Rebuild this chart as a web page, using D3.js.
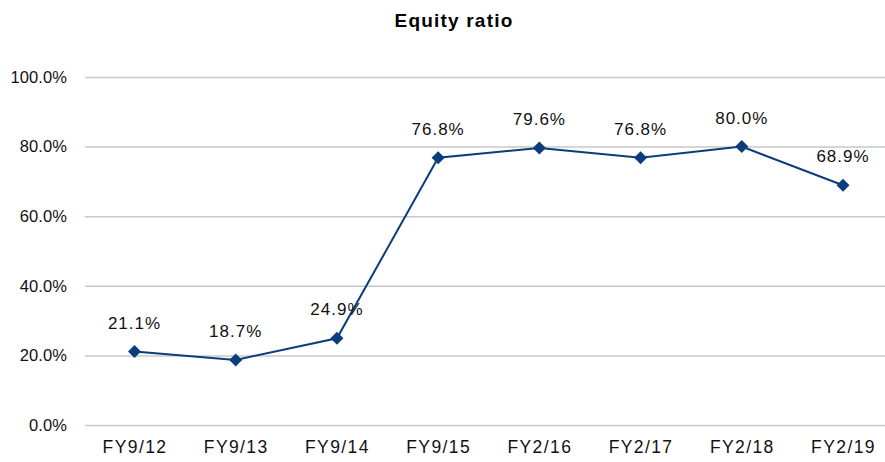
<!DOCTYPE html>
<html><head><meta charset="utf-8">
<script src="https://cdn.jsdelivr.net/npm/d3@7"></script>
<style>body{margin:0;background:#fff}svg{display:block}</style>
</head><body>
<script>
const categories = ["FY9/12","FY9/13","FY9/14","FY9/15","FY2/16","FY2/17","FY2/18","FY2/19"];
const values = [21.1, 18.7, 24.9, 76.8, 79.6, 76.8, 80.0, 68.9];
const yTicks = [0, 20, 40, 60, 80, 100];
const title = "Equity ratio";

const W = 885, H = 462;
const svg = d3.select("body").append("svg").attr("width", W).attr("height", H);
const x = d3.scalePoint().domain(categories).range([134.5, 843]);
const y = d3.scaleLinear().domain([0, 100]).range([425, 77]);
const font = "'Liberation Sans', Arial, sans-serif";

svg.append("text").attr("x", 454).attr("y", 27).attr("text-anchor", "middle")
  .attr("font-family", font).attr("font-weight", "bold").attr("font-size", 19)
  .attr("letter-spacing", 1.2).text(title);

const yAxis = svg.append("g").attr("transform", "translate(85,0)")
  .call(d3.axisLeft(y).tickValues(yTicks).tickSize(-800).tickPadding(18)
    .tickFormat(d => d.toFixed(1) + "%"));
yAxis.select(".domain").remove();
yAxis.selectAll(".tick line").attr("stroke", "#c8c8c8").attr("stroke-width", 1.5);
yAxis.selectAll(".tick text").attr("font-family", font).attr("font-size", 16.5)
  .attr("fill", "#111").attr("letter-spacing", 0.1);

const xAxis = svg.append("g").attr("transform", "translate(0,425)")
  .call(d3.axisBottom(x).tickSize(0).tickPadding(16));
xAxis.select(".domain").remove();
xAxis.selectAll(".tick text").attr("font-family", font).attr("font-size", 17.5)
  .attr("fill", "#111").attr("letter-spacing", 1.4);

const color = "#0b3d7c";
svg.append("path").datum(values)
  .attr("fill", "none").attr("stroke", color).attr("stroke-width", 2)
  .attr("d", d3.line().x((d, i) => x(categories[i])).y(d => y(d)));

svg.selectAll(".pt").data(values).enter().append("path")
  .attr("class", "pt")
  .attr("d", d3.symbol().type(d3.symbolSquare).size(85))
  .attr("transform", (d, i) => `translate(${x(categories[i])},${y(d)}) rotate(45)`)
  .attr("fill", color);

svg.selectAll(".lbl").data(values).enter().append("text")
  .attr("class", "lbl")
  .attr("x", (d, i) => x(categories[i]))
  .attr("y", d => y(d) - 23)
  .attr("text-anchor", "middle")
  .attr("font-family", font).attr("font-size", 17).attr("fill", "#111")
  .attr("letter-spacing", 1)
  .text(d => d.toFixed(1) + "%");
</script>
</body></html>
